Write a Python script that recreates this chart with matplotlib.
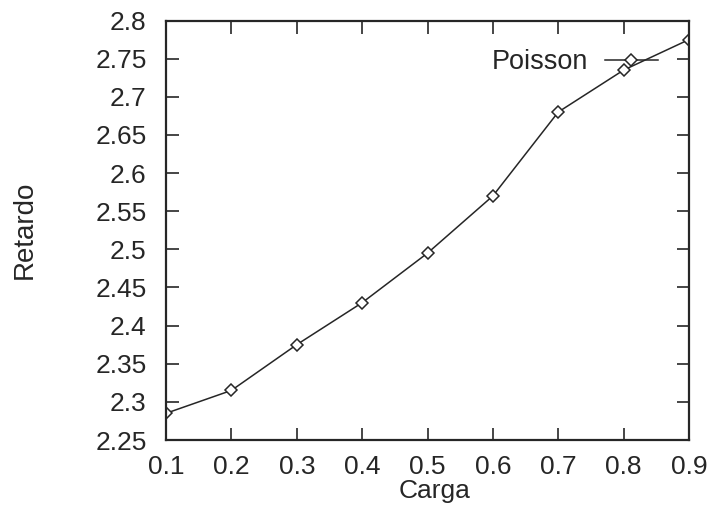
import numpy as np
import matplotlib.pyplot as plt

# dati
carga = [0.1, 0.2, 0.3, 0.4, 0.5, 0.6, 0.7, 0.8, 0.9]
retardo = [2.285, 2.315, 2.375, 2.43, 2.495, 2.57, 2.68, 2.735, 2.775]

xticks = [0.1, 0.2, 0.3, 0.4, 0.5, 0.6, 0.7, 0.8, 0.9]
yticks = [2.25, 2.3, 2.35, 2.4, 2.45, 2.5, 2.55, 2.6, 2.65, 2.7, 2.75, 2.8]

plt.rcParams['font.family'] = ['Liberation Sans', 'DejaVu Sans']
col = '#262626'

fig = plt.figure(figsize=(7.11, 5.16), dpi=100)
ax = fig.add_axes([166/711, 1 - 440/516, (689 - 166)/711, (440 - 20.5)/516])

ax.plot(carga, retardo, '-', color=col, lw=1.1,
        marker='D', markersize=6.6, markerfacecolor='white',
        markeredgecolor=col, markeredgewidth=1.1, label='Poisson')

ax.set_xlim(0.1, 0.9)
ax.set_ylim(2.25, 2.8)
ax.set_xticks(xticks)
ax.set_xticklabels([f"{v:g}" for v in xticks])
ax.set_yticks(yticks)
ax.set_yticklabels([f"{v:g}" for v in yticks])

ax.tick_params(direction='in', length=9, width=1.2, labelsize=19,
               top=True, right=True, colors=col)
ax.tick_params(axis='x', pad=11)
ax.tick_params(axis='y', pad=14)
for s in ax.spines.values():
    s.set_linewidth(1.6)
    s.set_color(col)

ax.set_xlabel('Carga', fontsize=19, color=col)
ax.xaxis.set_label_coords(0.514, -0.093)
ax.set_ylabel('Retardo', fontsize=20, color=col)
ax.yaxis.set_label_coords(-0.246, 0.5)

# legenda in alto a destra, testo prima del simbolo
leg = ax.legend(loc='center right', frameon=False, fontsize=19.5,
                markerfirst=False, handlelength=1.97, handletextpad=0.6,
                borderaxespad=0, borderpad=0,
                bbox_to_anchor=((658 - 166)/523, 1 - (62 - 20.5)/419.5))
for t in leg.get_texts():
    t.set_color(col)

fig.savefig('out.png', dpi=100)
